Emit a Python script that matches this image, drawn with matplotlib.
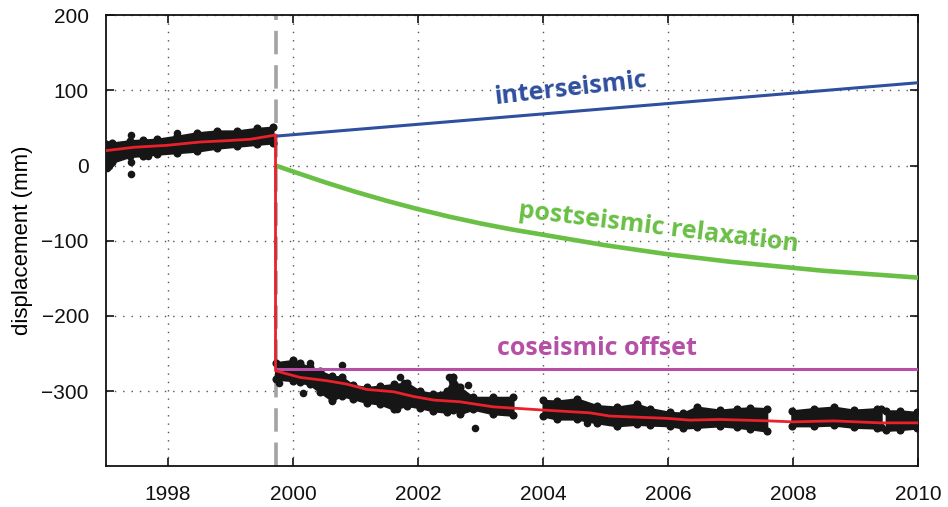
import matplotlib
matplotlib.use("Agg")
import matplotlib.pyplot as plt
import numpy as np

# ---------------- data ----------------
quake_time = 1999.72

# model (red) before the earthquake
model_pre_t = [1997.00, 1997.45, 1997.98, 1998.51, 1998.94, 1999.31, 1999.72]
model_pre_y = [19.7, 24.2, 26.8, 31.2, 33.0, 34.8, 40.5]
# model (red) after the earthquake
model_post_t = [1999.72, 2000.11, 2000.54, 2000.86, 2001.18, 2001.61, 2001.93, 2002.26,
                2002.67, 2003.20, 2004.00, 2004.75, 2005.07, 2005.98, 2006.35, 2006.83,
                2007.58, 2008.00, 2008.65, 2009.39, 2010.00]
model_post_y = [-272.8, -281.6, -286.0, -290.5, -297.6, -300.7, -307.0, -311.8,
                -314.0, -320.7, -325.0, -328.7, -333.0, -336.0, -338.4, -337.5,
                -339.3, -340.7, -339.4, -342.0, -342.0]

# interseismic trend (blue)
inter_t = [1999.72, 2010.0]
inter_y = [39.0, 110.0]
# postseismic relaxation (green)
post_t = [1999.72, 2000.0, 2000.5, 2001.0, 2001.5, 2002.0, 2002.5, 2003.0, 2003.5, 2004.0,
          2004.5, 2005.0, 2005.5, 2006.0, 2006.5, 2007.0, 2007.5, 2008.0, 2008.5, 2009.0,
          2009.5, 2010.0]
post_y = [0, -8, -22, -35, -47, -58, -68, -77, -85, -92,
          -99, -106, -112, -118, -123, -128, -132, -136, -140, -143,
          -146, -149]
# coseismic offset (magenta)
cos_t = [1999.72, 2010.0]
cos_y = [-270.0, -270.0]

# GPS daily solutions: envelope of the dense dot cloud, one list per data segment
seg_t = [
    [1997.00, 1997.10, 1997.39, 1997.60, 1997.82, 1998.14, 1998.46, 1998.78, 1999.10, 1999.42, 1999.68],
    [1999.72, 2000.00, 2000.11, 2000.27, 2000.43, 2000.62, 2000.78, 2000.96, 2001.18, 2001.39,
     2001.61, 2001.82, 2002.03, 2002.24, 2002.46, 2002.56, 2002.67, 2002.88, 2003.20, 2003.52],
    [2004.00, 2004.22, 2004.54, 2004.86, 2005.18, 2005.50, 2005.71, 2006.03, 2006.24, 2006.46,
     2006.83, 2007.10, 2007.31, 2007.58],
    [2007.98, 2008.33, 2008.65, 2008.97, 2009.35, 2009.41],
    [2009.49, 2009.71, 2009.98],
]
seg_lo = [
    [1, 4, 12, 13, 15, 17, 19, 23, 25.5, 28, 30],
    [-284, -286, -288, -291, -301, -312, -306, -310, -315, -317,
     -324, -319, -322, -326, -328, -325, -330, -324, -330, -332],
    [-333, -337, -337, -342, -346, -344, -345, -346, -349, -348,
     -346, -348, -350, -353],
    [-346, -346, -345, -348, -349, -348],
    [-352, -351, -349],
]
seg_hi = [
    [28, 30, 33, 34, 35, 39, 43.5, 46, 46, 49.5, 51],
    [-262, -259, -263, -268, -273, -280, -281, -292, -295, -293,
     -291, -289, -300, -303, -300, -281, -295, -308, -308, -308],
    [-312, -313, -310, -319, -321, -317, -323, -328, -329, -321,
     -325, -323, -322, -323],
    [-326, -323, -321, -325, -323, -324],
    [-326, -326, -328],
]
# isolated GPS points outside the main cloud
out_t = [1997.02, 1997.05, 1997.40, 1997.41, 1997.40, 1997.68, 1998.14, 1999.78, 2000.27,
         2000.16, 2000.62, 2000.78, 2001.71, 2001.66, 2001.78, 2002.50, 2002.55, 2002.80,
         2002.91, 2004.70, 2005.18]
out_y = [-3, 0, 40.5, 5, -11.3, 12.6, 42.8, -289.6, -262,
         -302, -312.8, -265, -281.6, -324.2, -288.8, -281, -286, -292,
         -349.5, -342, -346]

x_ticks = [1998, 2000, 2002, 2004, 2006, 2008, 2010]
y_ticks = [-300, -200, -100, 0, 100, 200]

# ---------------- figure ----------------
plt.rcParams["font.family"] = ["Liberation Sans", "DejaVu Sans"]
fig = plt.figure(figsize=(9.48, 5.07), dpi=100)
ax = fig.add_axes([0.1113, 0.0799, 0.8571, 0.8905])

ax.set_xlim(1997, 2010)
ax.set_ylim(-400, 200)
ax.set_xticks(x_ticks)
ax.set_yticks(y_ticks)
ax.tick_params(direction="in", length=6, width=1.2, top=True, right=True,
               labelsize=15, colors="#111111")
ax.tick_params(axis="x", pad=13)
ax.tick_params(axis="y", pad=12)
for s in ax.spines.values():
    s.set_linewidth(1.3)
    s.set_color("#111111")
ax.grid(True, color="#555555", linestyle=(0, (1, 5)), linewidth=1.0)
ax.set_axisbelow(True)

ax.set_ylabel("displacement (mm)", fontsize=16, labelpad=6)

# earthquake time
ax.axvline(quake_time, color="#a3a3a3", linewidth=2.6, dashes=(6.5, 3.0), zorder=2)

# GPS dots
for t, lo, hi in zip(seg_t, seg_lo, seg_hi):
    ax.fill_between(t, lo, hi, color="#161616", linewidth=1.5, edgecolor="#161616", zorder=3)
    ax.scatter(t + t, lo + hi, s=34, color="#161616", linewidths=0, zorder=3)
ax.scatter(out_t, out_y, s=30, color="#161616", linewidths=0, zorder=3)

# model
ax.plot(model_pre_t + model_post_t, model_pre_y + model_post_y, color="#e8212b",
        linewidth=2.0, zorder=5)

ax.plot(inter_t, inter_y, color="#2f4f9f", linewidth=2.2, zorder=4, solid_capstyle="butt")
ax.plot(post_t, post_y, color="#6abf45", linewidth=3.3, zorder=4, solid_capstyle="butt")
ax.plot(cos_t, cos_y, color="#b64fa6", linewidth=2.2, zorder=4, solid_capstyle="butt")

ann_font = ["Open Sans", "DejaVu Sans"]
ax.text(2004.45, 101.7, "interseismic", color="#2f4f9f", fontsize=18, fontweight="bold",
        family=ann_font, rotation=6.5, ha="center", va="center", rotation_mode="anchor")
ax.text(2005.84, -83, "postseismic relaxation", color="#6abf45", fontsize=18,
        fontweight="bold", family=ann_font, rotation=-7, ha="center", va="center",
        rotation_mode="anchor")
ax.text(2004.86, -242.7, "coseismic offset", color="#b64fa6", fontsize=18,
        fontweight="bold", family=ann_font, ha="center", va="center")

fig.savefig("out.png", dpi=100)
